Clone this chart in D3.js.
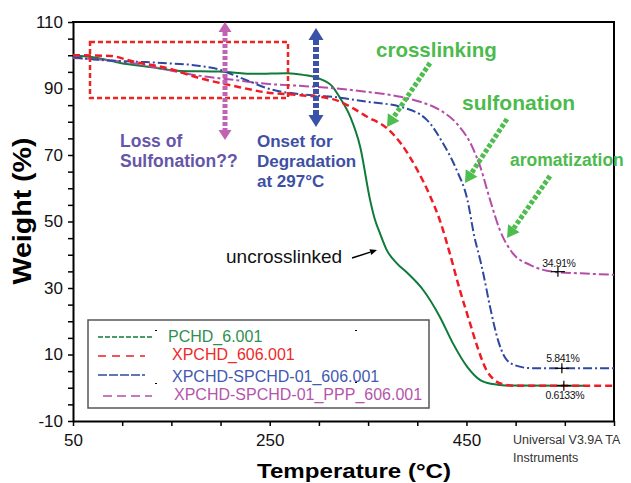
<!DOCTYPE html>
<html>
<head>
<meta charset="utf-8">
<script src="https://cdn.jsdelivr.net/npm/d3@7"></script>
<style>
  html, body { margin: 0; padding: 0; background: #fff; }
  svg { display: block; font-family: "Liberation Sans", Arial, sans-serif; }
</style>
</head>
<body>
<div id="chart"></div>
<script>
// TGA curves, temperature (°C) vs weight (%)
var seriesNames = ['PCHD_6.001', 'XPCHD_606.001',
    'XPCHD-SPCHD-01_606.001', 'XPCHD-SPCHD-01_PPP_606.001'];

var pchdTemp = [50, 75, 98, 128, 159, 199, 235, 268, 284, 301, 314, 321, 332, 342, 352, 357, 362, 369, 379, 390, 406, 423, 436, 451, 464, 477, 490, 570];
var pchdWeight = [99.9, 99.2, 97.7, 96.5, 95.3, 95.1, 94.4, 94.6, 94.1, 92.9, 90.5, 87.4, 81.4, 72.4, 56.5, 50.5, 46.5, 41.4, 37.5, 34.5, 29.4, 21.3, 13.5, 6.2, 2.3, 1.1, 0.7, 0.6];

var xpchdTemp = [50, 88, 111, 146, 179, 213, 247, 281, 314, 332, 349, 369, 383, 400, 413, 423, 433, 443, 453, 462, 470, 478, 488, 500, 600];
var xpchdWeight = [100, 99.8, 98.1, 96.1, 93.1, 90.8, 88.8, 88.0, 86.8, 84.5, 81.5, 78.1, 73.6, 65.5, 57.7, 50.3, 40.5, 29.7, 20.0, 11.5, 5.5, 2.4, 1.0, 0.6, 0.6];

var spchdTemp = [50, 77, 111, 146, 179, 200, 213, 230, 247, 281, 301, 314, 349, 383, 410, 426, 440, 451, 458, 464, 467, 474, 482, 489, 499, 515, 545, 600];
var spchdWeight = [99.4, 98.6, 98.1, 97.6, 96.8, 95.6, 94.1, 92.1, 90.1, 88.3, 87.8, 87.5, 86.0, 84.5, 80.5, 73.6, 65.5, 56.5, 45.5, 38.4, 34.5, 24.3, 14.4, 9.2, 6.8, 5.9, 5.84, 5.84];

var pppTemp = [50, 111, 146, 179, 213, 247, 281, 314, 349, 383, 403, 423, 440, 455, 464, 474, 484, 497, 515, 538, 566, 600];
var pppWeight = [99.2, 97.6, 95.6, 93.8, 92.6, 91.4, 90.8, 90.1, 89.0, 87.5, 86.0, 83.5, 79.5, 73.0, 66.5, 56.5, 47.4, 40.5, 36.9, 34.9, 34.4, 34.0];

// residue markers
var residueTemp = [543, 547, 549];
var residueWeight = [34.91, 5.841, 0.6133];
var residueLabels = ['34.91%', '5.841%', '0.6133%'];

var yTicks = d3.range(-10, 111, 5);
var yLabels = [-10, 10, 30, 50, 70, 90, 110];
var xTicks = d3.range(50, 601, 50);
var xLabels = [50, 250, 450];

var lineColors = ['#0f7a3a', '#ee1c24', '#2e48a0', '#b44da8'];
var lineDash = [null, '7,4', '9,3,2,3', '10,3,3,3'];
var lineWidth = [2, 2.5, 2, 2];
var legendColors = ['#2f8f4f', '#ee2a2a', '#4259b0', '#b455ab'];
var legendDash = ['5,2', '8,6', '9,2', '9,5'];

var W = 631, H = 483;
var svg = d3.select('#chart').append('svg')
    .attr('width', W).attr('height', H);

var x = d3.scaleLinear().domain([50, 600]).range([73, 614]);
var y = d3.scaleLinear().domain([-10, 110]).range([421, 22]);

// axes
var yAxis = d3.axisLeft(y).tickValues(yTicks).tickSize(5).tickSizeOuter(0).tickPadding(5)
    .tickFormat(function (d) { return yLabels.indexOf(d) >= 0 ? String(d) : ''; });
var xAxis = d3.axisBottom(x).tickValues(xTicks).tickSize(5).tickSizeOuter(0).tickPadding(8)
    .tickFormat(function (d) { return xLabels.indexOf(d) >= 0 ? String(d) : ''; });

function styleAxis(g) {
    g.select('.domain').attr('stroke', '#000').attr('stroke-width', 2);
    g.selectAll('.tick line').attr('stroke', '#000').attr('stroke-width', 1.5);
    g.selectAll('.tick text').attr('fill', '#111').attr('font-size', 17)
        .attr('font-family', '"Liberation Sans", Arial, sans-serif');
}

svg.append('g').attr('transform', 'translate(73,0)').call(yAxis).call(styleAxis);
svg.append('g').attr('transform', 'translate(0,421)').call(xAxis).call(styleAxis);

// frame top and right
svg.append('line').attr('x1', 72).attr('x2', 615).attr('y1', 22).attr('y2', 22)
    .attr('stroke', '#000').attr('stroke-width', 2);
svg.append('line').attr('x1', 614).attr('x2', 614).attr('y1', 22).attr('y2', 422)
    .attr('stroke', '#000').attr('stroke-width', 2);

// axis titles
svg.append('text')
    .attr('transform', 'translate(31,211) rotate(-90)')
    .attr('text-anchor', 'middle')
    .attr('font-weight', 'bold').attr('font-size', 25)
    .attr('textLength', 147).attr('lengthAdjust', 'spacingAndGlyphs')
    .text('Weight (%)');
svg.append('text')
    .attr('x', 354).attr('y', 478)
    .attr('text-anchor', 'middle')
    .attr('font-weight', 'bold').attr('font-size', 21)
    .attr('textLength', 194).attr('lengthAdjust', 'spacingAndGlyphs')
    .text('Temperature (°C)');

// curves
var line = d3.line()
    .x(function (d) { return x(d[0]); })
    .y(function (d) { return y(d[1]); })
    .curve(d3.curveMonotoneX);

var series = [
    d3.zip(pchdTemp, pchdWeight),
    d3.zip(xpchdTemp, xpchdWeight),
    d3.zip(spchdTemp, spchdWeight),
    d3.zip(pppTemp, pppWeight)
];
var drawOrder = [0, 3, 2, 1];
drawOrder.forEach(function (i) {
    svg.append('path')
        .attr('d', line(series[i]))
        .attr('fill', 'none')
        .attr('stroke', lineColors[i])
        .attr('stroke-width', lineWidth[i])
        .attr('stroke-dasharray', lineDash[i]);
});

// residue markers (crosses) and labels
var labelDy = [-5, -6, 13];
residueTemp.forEach(function (t, i) {
    var cx = x(t), cy = y(residueWeight[i]);
    svg.append('line').attr('x1', cx - 7).attr('x2', cx + 7).attr('y1', cy).attr('y2', cy)
        .attr('stroke', '#000').attr('stroke-width', 1.2);
    svg.append('line').attr('x1', cx).attr('x2', cx).attr('y1', cy - 5).attr('y2', cy + 5)
        .attr('stroke', '#000').attr('stroke-width', 1.2);
    svg.append('text').attr('x', cx + 1).attr('y', cy + labelDy[i])
        .attr('text-anchor', 'middle').attr('font-size', 10.5)
        .attr('letter-spacing', -0.4).attr('fill', '#111')
        .text(residueLabels[i]);
});

// legend
var legendRows = [
    { ly: 337, lx1: 98, lx2: 154, tx: 168, ty: 342 },
    { ly: 356, lx1: 98, lx2: 145, tx: 172, ty: 360 },
    { ly: 375, lx1: 98, lx2: 145, tx: 172, ty: 382 },
    { ly: 396, lx1: 103, lx2: 152, tx: 174, ty: 400 }
];
svg.append('rect').attr('x', 88).attr('y', 320).attr('width', 341).attr('height', 88)
    .attr('fill', '#fff').attr('stroke', '#555').attr('stroke-width', 1.5);
seriesNames.forEach(function (name, i) {
    var r = legendRows[i];
    svg.append('line').attr('x1', r.lx1).attr('x2', r.lx2).attr('y1', r.ly).attr('y2', r.ly)
        .attr('stroke', lineColors[i]).attr('stroke-width', 1.5)
        .attr('stroke-dasharray', legendDash[i]);
    svg.append('text').attr('x', r.tx).attr('y', r.ty)
        .attr('font-size', 16).attr('fill', legendColors[i])
        .text(name);
});
[[155, 330], [355, 330], [155, 383], [355, 382]].forEach(function (p) {
    svg.append('rect').attr('x', p[0]).attr('y', p[1]).attr('width', 2).attr('height', 1).attr('fill', '#000');
});

// annotations
function arrow(x1, y1, x2, y2, color, width, dash, hl, hw, both) {
    var dx = x2 - x1, dy = y2 - y1, len = Math.hypot(dx, dy);
    var ux = dx / len, uy = dy / len, px = -uy, py = ux;
    var sx = both ? x1 + ux * hl : x1, sy = both ? y1 + uy * hl : y1;
    svg.append('line')
        .attr('x1', sx).attr('y1', sy)
        .attr('x2', x2 - ux * hl).attr('y2', y2 - uy * hl)
        .attr('stroke', color).attr('stroke-width', width)
        .attr('stroke-dasharray', dash);
    function head(tx, ty, dirx, diry) {
        var bx = tx - dirx * hl, by = ty - diry * hl;
        svg.append('polygon')
            .attr('points', [[tx, ty], [bx + px * hw / 2, by + py * hw / 2], [bx - px * hw / 2, by - py * hw / 2]].join(' '))
            .attr('fill', color);
    }
    head(x2, y2, ux, uy);
    if (both) head(x1, y1, -ux, -uy);
}

// red dashed box
svg.append('rect').attr('x', 90).attr('y', 42).attr('width', 198).attr('height', 56)
    .attr('fill', 'none').attr('stroke', '#ee2222').attr('stroke-width', 2.5)
    .attr('stroke-dasharray', '5,3');

arrow(225, 22, 225, 140, '#c262b4', 5, '4,2', 10, 13, true);
arrow(316, 28, 316, 127, '#3a52a8', 6, '5,2', 12, 15, true);

arrow(430, 63, 387, 127, '#4dbd4d', 5, '4,2', 12, 14, false);
arrow(507, 119, 465, 183, '#4dbd4d', 5, '4,2', 12, 14, false);
arrow(550, 176, 507, 238, '#4dbd4d', 5, '4,2', 12, 14, false);

arrow(352, 258, 377, 250, '#000', 1.5, null, 7, 6, false);

function label(txt, tx, ty, size, color, weight) {
    svg.append('text').attr('x', tx).attr('y', ty)
        .attr('font-size', size).attr('fill', color)
        .attr('font-weight', weight || 'bold')
        .text(txt);
}
label('Loss of', 120, 147, 17.5, '#6656aa');
label('Sulfonation??', 120, 167, 17.5, '#6656aa');
label('Onset for', 257, 147, 17, '#3d50a3');
label('Degradation', 257, 167, 17, '#3d50a3');
label('at 297°C', 257, 187, 17, '#3d50a3');
label('crosslinking', 376, 57, 20.5, '#4cbb4c');
label('sulfonation', 462, 110, 21, '#4cbb4c');
label('aromatization', 510, 166, 17.5, '#4cbb4c');
label('uncrosslinked', 226, 263, 19, '#111', 'normal');

label('Universal V3.9A TA', 513, 444, 12.5, '#333', 'normal');
label('Instruments', 513, 462, 12.5, '#333', 'normal');
</script>
</body>
</html>
